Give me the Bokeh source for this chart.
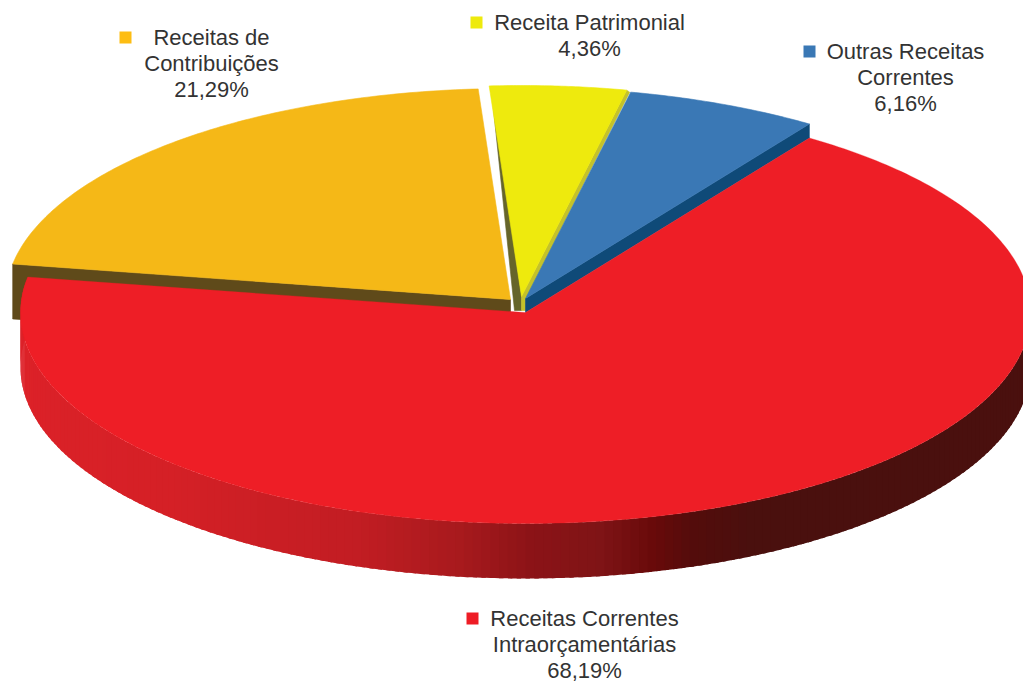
import math
from bokeh.plotting import figure
from bokeh.embed import file_html
from bokeh.resources import INLINE
from bokeh.core.properties import value

categories = ["Receitas Correntes Intraorçamentárias", "Receitas de Contribuições", "Receita Patrimonial", "Outras Receitas Correntes"]
values = [68.19, 21.29, 4.36, 6.16]
label_lines = [["Receitas Correntes", "Intraorçamentárias"], ["Receitas de", "Contribuições"], ["Receita Patrimonial"], ["Outras Receitas", "Correntes"]]
top_colors = ["#ee1e26", "#f5b817", "#eeea0d", "#3a78b5"]
side_colors = ["#4a100e", "#5f4a1a", "#66652a", "#0f4a78"]
key_colors = ["#ee1c25", "#fdbd13", "#eeea0d", "#3a78b5"]

W, H = 1023, 684
RX, RY = 505.0, 211.0
START = 55.8
CENTERS = [(525, 312), (510, 299), (521, 296), (525, 298)]

RAMP = [(180, "#de2229"), (225, "#d52026"), (250, "#c21d23"), (262, "#a81a1d"), (270, "#8c1317"), (278, "#7f1416"), (284, "#690a0a"), (289, "#530c0b"), (296, "#4a100e"), (360, "#4a100e")]

def hex2rgb(h):
    return tuple(int(h[i:i + 2], 16) for i in (1, 3, 5))

def ramp(t):
    for (a, ca), (b, cb) in zip(RAMP, RAMP[1:]):
        if a <= t <= b:
            f = (t - a) / (b - a)
            ra, rb = hex2rgb(ca), hex2rgb(cb)
            return "#%02x%02x%02x" % tuple(round(x + (y - x) * f) for x, y in zip(ra, rb))
    return RAMP[-1][1]

def arc(c, t0, t1, n=120):
    xs, ys = [], []
    for i in range(n + 1):
        t = math.radians(t0 + (t1 - t0) * i / n)
        xs.append(c[0] + RX * math.cos(t))
        ys.append(c[1] - RY * math.sin(t))
    return xs, ys

p = figure(width=W, height=H, x_range=(0, W), y_range=(H, 0), output_backend="svg",
           toolbar_location=None, min_border=0, outline_line_color=None, background_fill_color="white",
           border_fill_color="white")
p.axis.visible = False
p.grid.visible = False

def poly(xs, ys, color, lw=0.6):
    p.patch(xs, ys, fill_color=color, line_color=color, line_width=lw)

spans = []
t = START
for v in [values[3], values[2], values[1], values[0]]:
    spans.append((t, t + v * 3.6))
    t += v * 3.6
blue, yellow, orange, red = spans

# orange: extruded body behind the red slice
c = CENTERS[1]
ax, ay = arc(c, orange[1], orange[0], 60)
DEPTH_O = 55
poly([ax[0], ax[0], c[0], c[0]], [ay[0], ay[0] + DEPTH_O, c[1] + DEPTH_O, c[1]], side_colors[1])
ax, ay = arc(c, orange[0], orange[1], 120)
poly([c[0]] + ax, [c[1]] + ay, top_colors[1])

# yellow: thin side strips, then its top
c = CENTERS[2]
ax, ay = arc(c, yellow[0], yellow[1], 40)
poly([ax[-1] + 2, c[0] - 7, c[0], c[0]], [ay[-1] + 1, c[1] + 14, c[1] + 14, c[1]], side_colors[2])
poly([ax[0], ax[0] + 3, c[0] + 4, c[0] + 4, c[0], c[0]], [ay[0], ay[0] + 2, c[1] + 3, c[1] + 14, c[1] + 14, c[1]], "#c4c22a")
poly([c[0]] + ax, [c[1]] + ay, top_colors[2])

# blue: side strip on the edge facing the viewer, then its top
c = CENTERS[3]
ax, ay = arc(c, blue[0], blue[1], 40)
poly([ax[0], ax[0], c[0], c[0]], [ay[0], ay[0] + 14, c[1] + 14, c[1]], side_colors[3])
poly([c[0]] + ax, [c[1]] + ay, top_colors[3])

# red: shaded rim, facet by facet with a soft overlap, then the top
c = CENTERS[0]
DEPTH = 55
STEP = 1.0
t = 171.0
while t < 360:
    t1 = min(t + STEP, 360)
    ax, ay = arc(c, t, t1 + 0.5, 3)
    col = ramp(max(t, 180))
    p.patch(ax + ax[::-1], ay + [y + DEPTH for y in ay[::-1]], fill_color=col, line_color=None)
    t = t1
ax, ay = arc(c, red[0], red[1], 300)
poly([c[0]] + ax, [c[1]] + ay, top_colors[0], 0.3)

# labels
FONT = value("Liberation Sans")
SIZE = "22px"
LH = 26
layout = [(584, 618, 472), (211, 37, 125), (589, 22, 476), (905, 51, 809)]
for lines, val, (x, y, kx), kc in zip(label_lines, values, layout, key_colors):
    rows = lines + [f"{val:.2f}".replace(".", ",") + "%"]
    p.text([x] * len(rows), [y + i * LH for i in range(len(rows))], text=rows, text_font=FONT,
           text_font_size=SIZE, text_color="#333333", text_align="center", text_baseline="middle")
    p.scatter([kx], [y], marker="square", size=12, fill_color=kc, line_color=None)

open("out.html", "w").write(file_html(p, INLINE))
